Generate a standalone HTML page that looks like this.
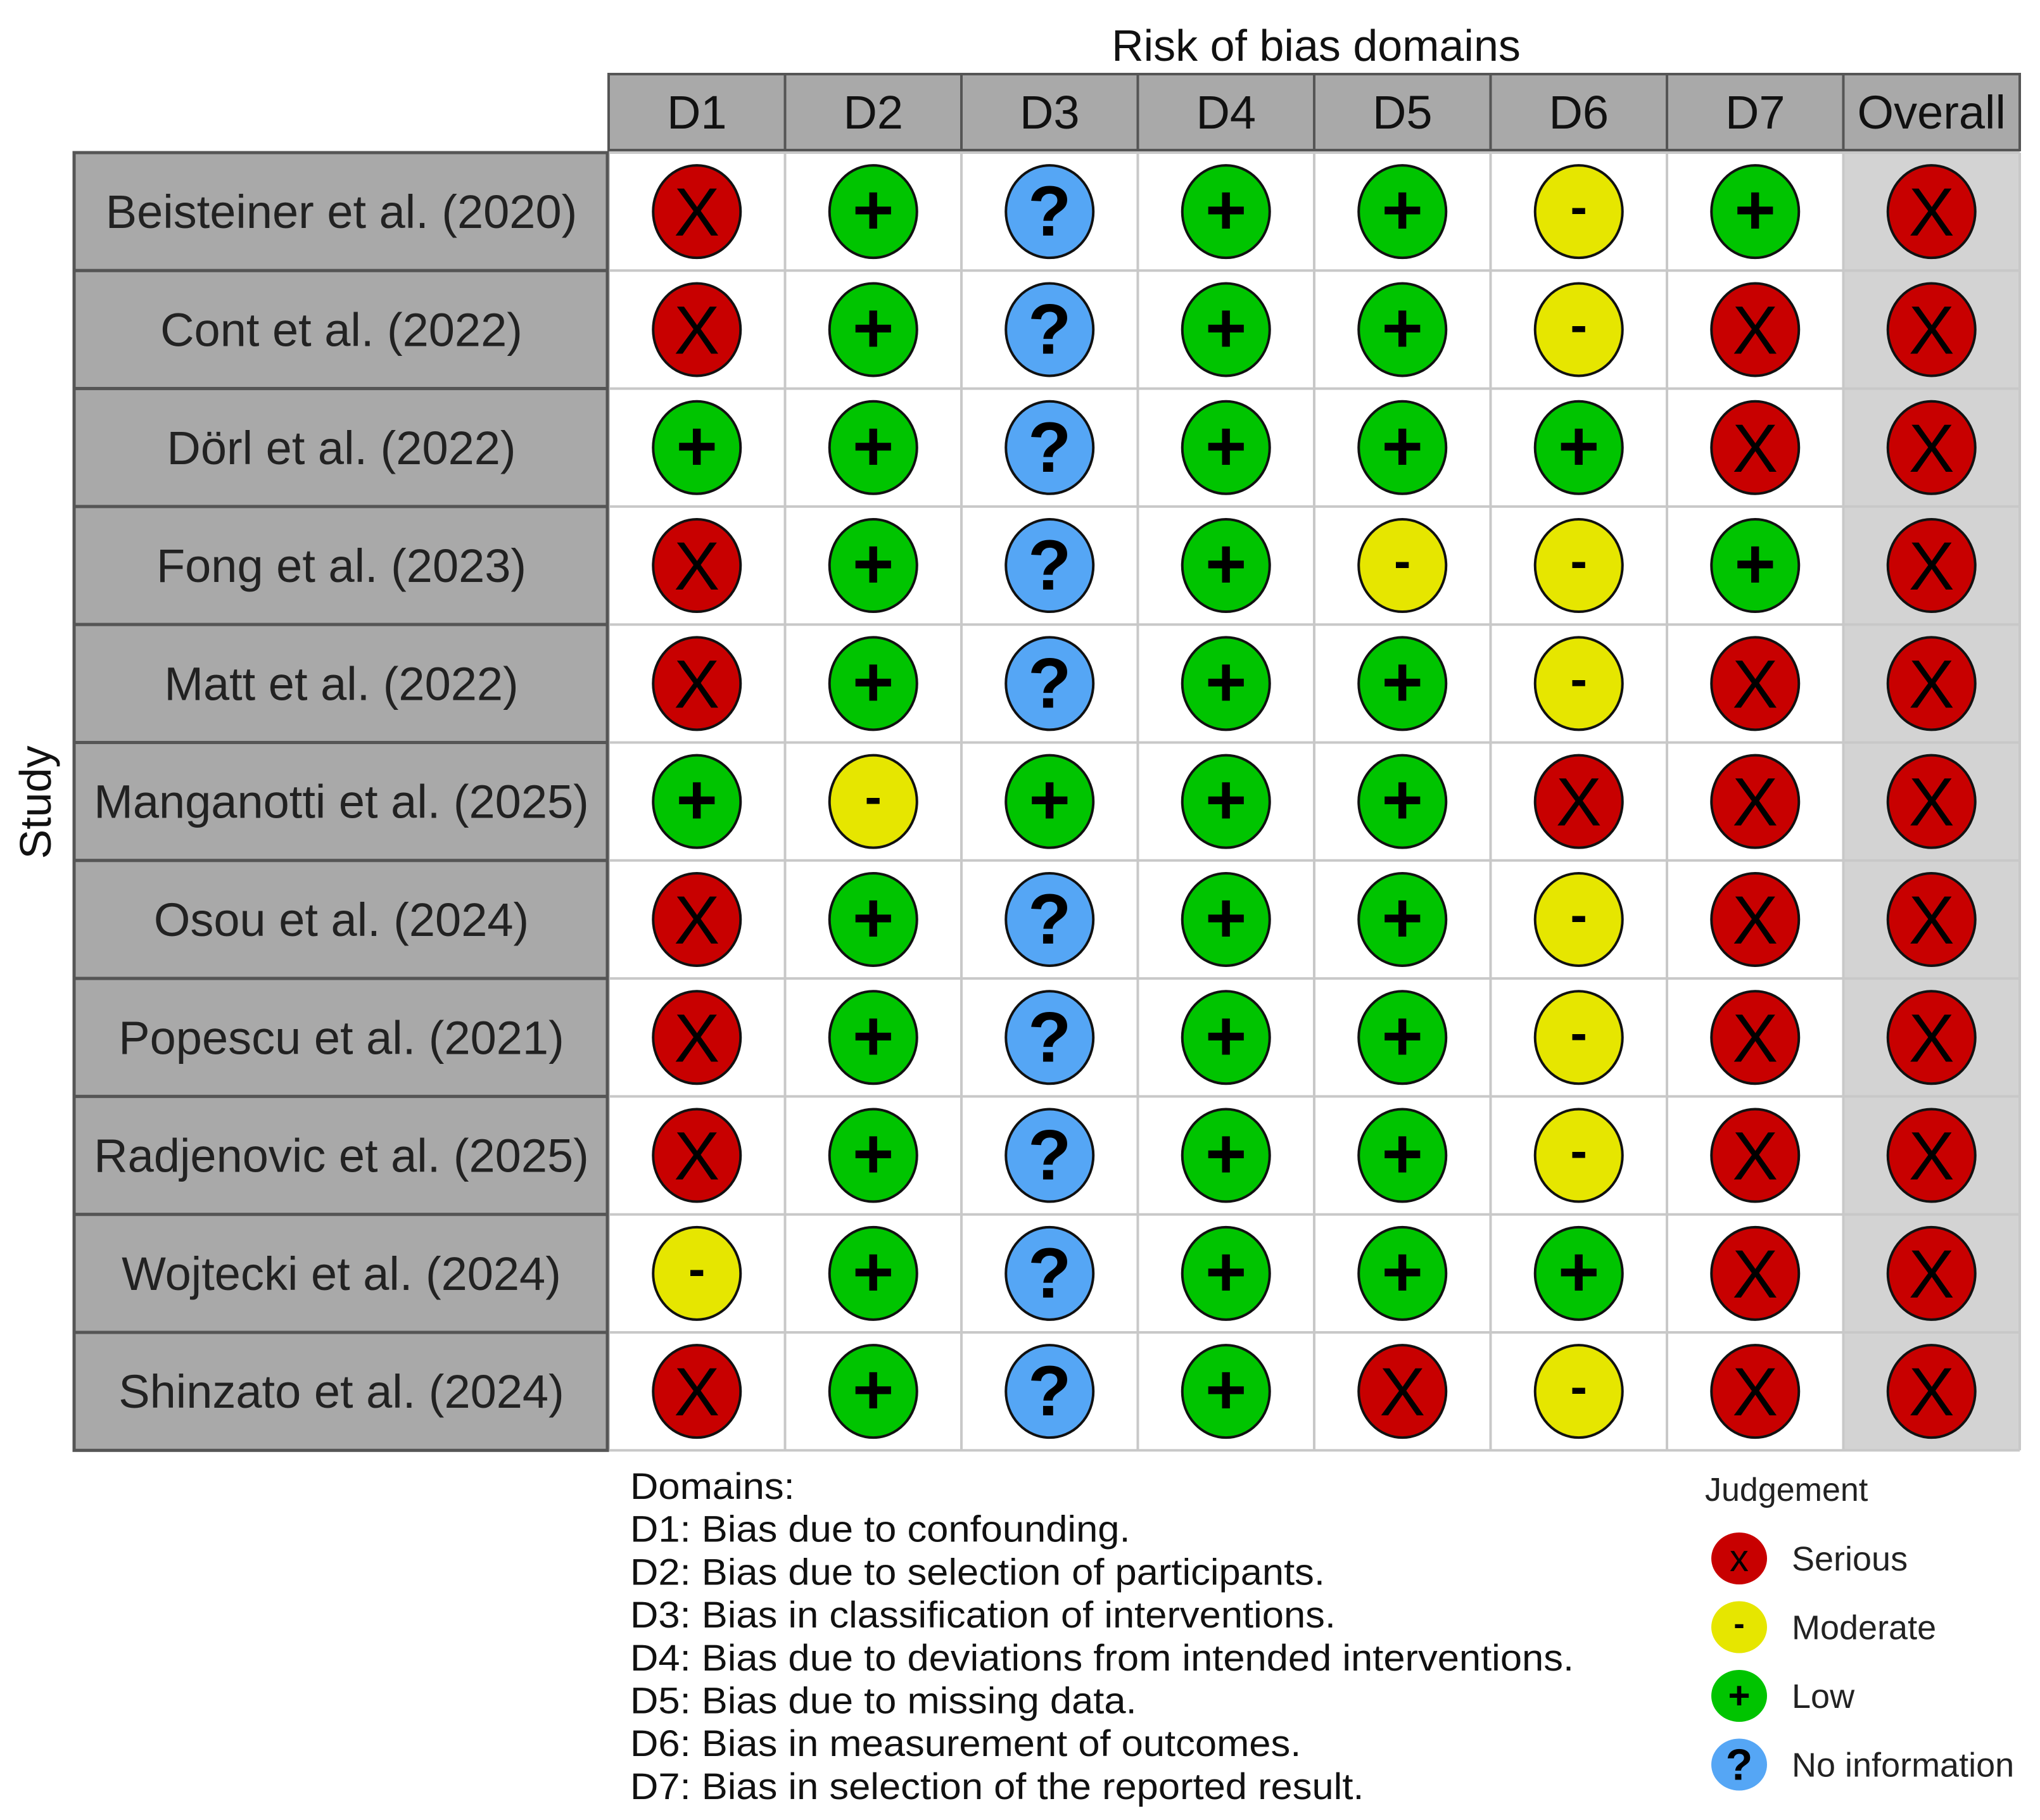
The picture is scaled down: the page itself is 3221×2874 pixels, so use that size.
<!DOCTYPE html>
<html><head><meta charset="utf-8"><style>
html,body{margin:0;padding:0;background:#fff;}
svg{display:block;font-family:"Liberation Sans",Arial,sans-serif;}
</style></head><body>
<svg id="chart" width="3221" height="2874" viewBox="0 0 3221 2874" xmlns="http://www.w3.org/2000/svg">
<text x="2078" y="96" font-size="70" text-anchor="middle" fill="#111">Risk of bias domains</text>
<text x="0" y="0" font-size="70" text-anchor="middle" fill="#111" transform="translate(80,1267) rotate(-90)">Study</text>
<g id="grid"></g>
<g id="legend"></g>
</svg>
<script>
const studies = ["Beisteiner et al. (2020)","Cont et al. (2022)","Dörl et al. (2022)","Fong et al. (2023)","Matt et al. (2022)","Manganotti et al. (2025)","Osou et al. (2024)","Popescu et al. (2021)","Radjenovic et al. (2025)","Wojtecki et al. (2024)","Shinzato et al. (2024)"];
const domains = ["D1","D2","D3","D4","D5","D6","D7","Overall"];
// S = serious, M = moderate, L = low, N = no information
const judgements = [
 ["S","L","N","L","L","M","L","S"],
 ["S","L","N","L","L","M","S","S"],
 ["L","L","N","L","L","L","S","S"],
 ["S","L","N","L","M","M","L","S"],
 ["S","L","N","L","L","M","S","S"],
 ["L","M","L","L","L","S","S","S"],
 ["S","L","N","L","L","M","S","S"],
 ["S","L","N","L","L","M","S","S"],
 ["S","L","N","L","L","M","S","S"],
 ["M","L","N","L","L","L","S","S"],
 ["S","L","N","L","S","M","S","S"]
];
const domainText = ["Domains:","D1: Bias due to confounding.","D2: Bias due to selection of participants.","D3: Bias in classification of interventions.","D4: Bias due to deviations from intended interventions.","D5: Bias due to missing data.","D6: Bias in measurement of outcomes.","D7: Bias in selection of the reported result."];
const legendLevels = ["S","M","L","N"];
const legendLabels = ["Serious","Moderate","Low","No information"];

const NS="http://www.w3.org/2000/svg";
const fill={S:"#c80000",M:"#e6e600",L:"#00c400",N:"#55a6f5"};
const sym={S:"X",M:"-",L:"+",N:"?"};
const X0=961, CW=278.5, HT=117, HB=237, Y0=241, RH=186.3, LX0=117;
const colX=i=>X0+i*CW, rowY=i=>Y0+i*RH;
function el(t,a,p){const e=document.createElementNS(NS,t);for(const k in a)e.setAttribute(k,a[k]);p.appendChild(e);return e;}
function squeeze(t,f){const w=t.getComputedTextLength();t.setAttribute('textLength',w*f);t.setAttribute('lengthAdjust','spacingAndGlyphs');}
const g=document.getElementById('grid');
domains.forEach((d,i)=>{
  const r=el('rect',{x:colX(i),y:HT,width:CW,height:HB-HT,fill:"#a9a9a9",stroke:"#555","stroke-width":4},g);
  
  
  const t=el('text',{x:colX(i)+CW/2,y:HT+(HB-HT)/2+26,"font-size":74,"text-anchor":"middle",fill:"#111"},g);
  t.textContent=d;
  
  
});
const ob=el('rect',{x:colX(7),y:Y0,width:CW,height:RH*studies.length,fill:"#d3d3d3"},g);


for(let i=0;i<=8;i++){const l=el('line',{x1:colX(i),x2:colX(i),y1:Y0,y2:Y0+RH*studies.length,stroke:"#c8c8c8","stroke-width":4},g);
  
  }
for(let j=0;j<=studies.length;j++){const l=el('line',{x1:colX(0),x2:colX(8),y1:rowY(j),y2:rowY(j),stroke:"#c8c8c8","stroke-width":4},g);
  
  }
studies.forEach((s,j)=>{
  const r=el('rect',{x:LX0,y:rowY(j),width:X0-LX0-2,height:RH,fill:"#a9a9a9",stroke:"#555","stroke-width":5},g);
  
  
  const t=el('text',{x:(LX0+X0)/2,y:rowY(j)+RH/2+26,"font-size":74,"text-anchor":"middle",fill:"#222"},g);
  t.textContent=s;
  
  
  squeeze(t,1.0);
  judgements[j].forEach((v,i)=>{
    const cx=colX(i)+CW/2, cy=rowY(j)+RH/2;
    const c=el('ellipse',{cx:cx,cy:cy,rx:69,ry:73,fill:fill[v],stroke:"#111","stroke-width":4},g);
    
    
    const fs=v==="M"?80:(v==="S"?108:112);
    const tt=el('text',{x:cx,y:cy+(v==="M"?20:(v==="L"?36:38)),"font-size":fs,"text-anchor":"middle",fill:"#000","font-weight":v==="S"?"normal":"bold"},g);
    tt.textContent=sym[v];
    
    
  });
});
const lg=document.getElementById('legend');
domainText.forEach((s,k)=>{
  const t=el('text',{x:995,y:2367+k*67.7,"font-size":58,fill:"#111"},lg);
  t.textContent=s;
  
  
  squeeze(t,1.06);
});
const jt=el('text',{x:2692,y:2370,"font-size":52,fill:"#222"},lg);
jt.textContent="Judgement";


legendLevels.forEach((v,k)=>{
  const cy=2461+k*108.5;
  const c=el('ellipse',{cx:2746,cy:cy,rx:44,ry:41,fill:fill[v]},lg);
  
  
  const s=el('text',{x:2746,y:cy+(v==="M"?12:(v==="N"?24:20)),"font-size":v==="M"?52:(v==="N"?70:60),"text-anchor":"middle",fill:"#000","font-weight":v==="S"?"normal":"bold"},lg);
  s.textContent=v==="S"?"x":sym[v];
  
  
  const t=el('text',{x:2829,y:cy+19,"font-size":54,fill:"#222"},lg);
  t.textContent=legendLabels[k];
  
  
});
</script>
</body></html>
